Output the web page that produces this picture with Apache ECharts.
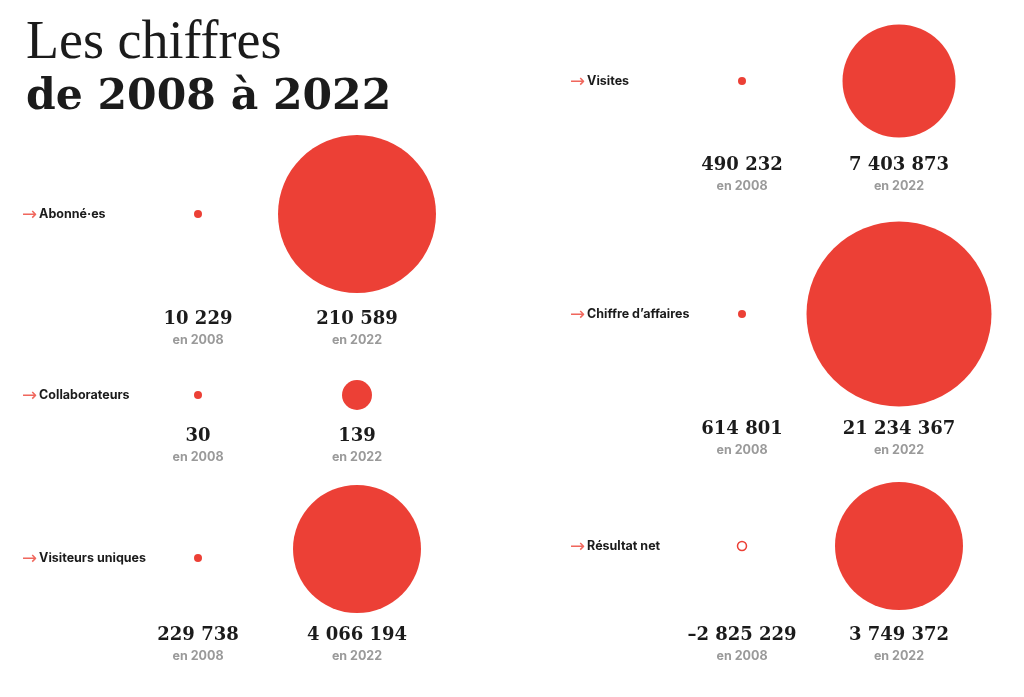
<html lang="fr">
<head>
    <meta charset="utf-8">
    <title>Les chiffres de 2008 à 2022</title>
    <script src="https://cdn.jsdelivr.net/npm/echarts@6.0.0/dist/echarts.min.js"></script>
    <style>
        html, body { margin: 0; padding: 0; background: #ffffff; }
        #chart { width: 1024px; height: 697px; }
    </style>
</head>
<body>
    <div id="chart"></div>
    <script type="text/javascript">
        // données
        var metrics = ['Abonné·es', 'Collaborateurs', 'Visiteurs uniques', 'Visites', 'Chiffre d’affaires', 'Résultat net'];
        var years = ['2008', '2022'];
        var values2008 = [10229, 30, 229738, 490232, 614801, -2825229];
        var values2022 = [210589, 139, 4066194, 7403873, 21234367, 3749372];

        // mise en page (positions et tailles, pas des données)
        var panelColumn = [0, 0, 0, 1, 1, 1];
        var panelRowY = [214, 395, 558, 81, 314, 546];
        var panelHalf = [89, 25, 61, 68, 99, 73];
        var bubble2022 = [158, 30, 128, 113, 185, 128];
        var bubbleShift = [0, 0, -9, 0, 0, 0];
        var columnLeft = [118.5, 663.5];
        var columnWidth = [318, 314];
        var labelMargin = [96.5, 93.5];

        var RED = '#EC4036';

        function fmt(v) {
            var s = Math.abs(v).toString().replace(/\B(?=(\d{3})+(?!\d))/g, ' ');
            return (v < 0 ? '–' : '') + s;
        }

        var chart = echarts.init(document.getElementById('chart'));

        var grids = [], xAxes = [], yAxes = [], series = [];
        metrics.forEach(function (name, i) {
            var col = panelColumn[i];
            grids.push({
                left: columnLeft[col],
                width: columnWidth[col],
                top: panelRowY[i] - panelHalf[i],
                height: panelHalf[i] * 2,
                outerBoundsMode: 'none',
                containLabel: false
            });
            xAxes.push({
                type: 'category',
                gridIndex: i,
                data: years,
                axisLine: { show: false },
                axisTick: { show: false },
                splitLine: { show: false },
                axisLabel: {
                    interval: 0,
                    margin: 4,
                    formatter: function (year, idx) {
                        var v = idx === 0 ? values2008[i] : values2022[i];
                        return '{v|' + fmt(v) + '}\n{y|en ' + year + '}';
                    },
                    rich: {
                        v: { fontFamily: 'DejaVu Serif', fontWeight: 'bold', fontSize: 18, color: '#1b1b1b', lineHeight: 24, align: 'center' },
                        y: { fontFamily: 'Inter', fontWeight: 'bold', fontSize: 12.5, color: '#9a9a9a', lineHeight: 18, align: 'center' }
                    }
                }
            });
            yAxes.push({
                type: 'category',
                gridIndex: i,
                data: [name],
                axisLine: { show: false },
                axisTick: { show: false },
                splitLine: { show: false },
                axisLabel: {
                    align: 'left',
                    margin: labelMargin[col],
                    formatter: function (n) { return '{a|→}{t|' + n + '}'; },
                    rich: {
                        a: { fontFamily: 'DejaVu Sans', fontSize: 18, color: '#F0675D', padding: [3, 2, 0, 0] },
                        t: { fontFamily: 'Inter', fontWeight: 'bold', fontSize: 12.5, color: '#1b1b1b' }
                    }
                }
            });
            var neg = values2008[i] < 0;
            series.push({
                type: 'scatter',
                xAxisIndex: i,
                yAxisIndex: i,
                clip: false,
                silent: true,
                symbol: 'circle',
                data: [
                    {
                        value: [years[0], name],
                        symbolSize: neg ? 9 : 8,
                        itemStyle: neg
                            ? { color: '#ffffff', borderColor: RED, borderWidth: 1.5, opacity: 1 }
                            : { color: RED, opacity: 1 }
                    },
                    {
                        value: [years[1], name],
                        symbolSize: bubble2022[i],
                        symbolOffset: [0, bubbleShift[i]],
                        itemStyle: { color: RED, opacity: 1 }
                    }
                ]
            });
        });

        var option = {
            animation: false,
            backgroundColor: '#ffffff',
            title: [
                {
                    text: 'Les chiffres',
                    left: 21,
                    top: 12,
                    textStyle: { fontFamily: 'Liberation Serif', fontWeight: 'normal', fontSize: 54, lineHeight: 54, color: '#1b1b1b' }
                },
                {
                    text: 'de 2008 à 2022',
                    left: 21,
                    top: 72,
                    textStyle: { fontFamily: 'DejaVu Serif', fontWeight: 'bold', fontSize: 42.5, lineHeight: 42, color: '#1b1b1b' }
                }
            ],
            grid: grids,
            xAxis: xAxes,
            yAxis: yAxes,
            series: series
        };
        chart.setOption(option);
    </script>
</body>
</html>
